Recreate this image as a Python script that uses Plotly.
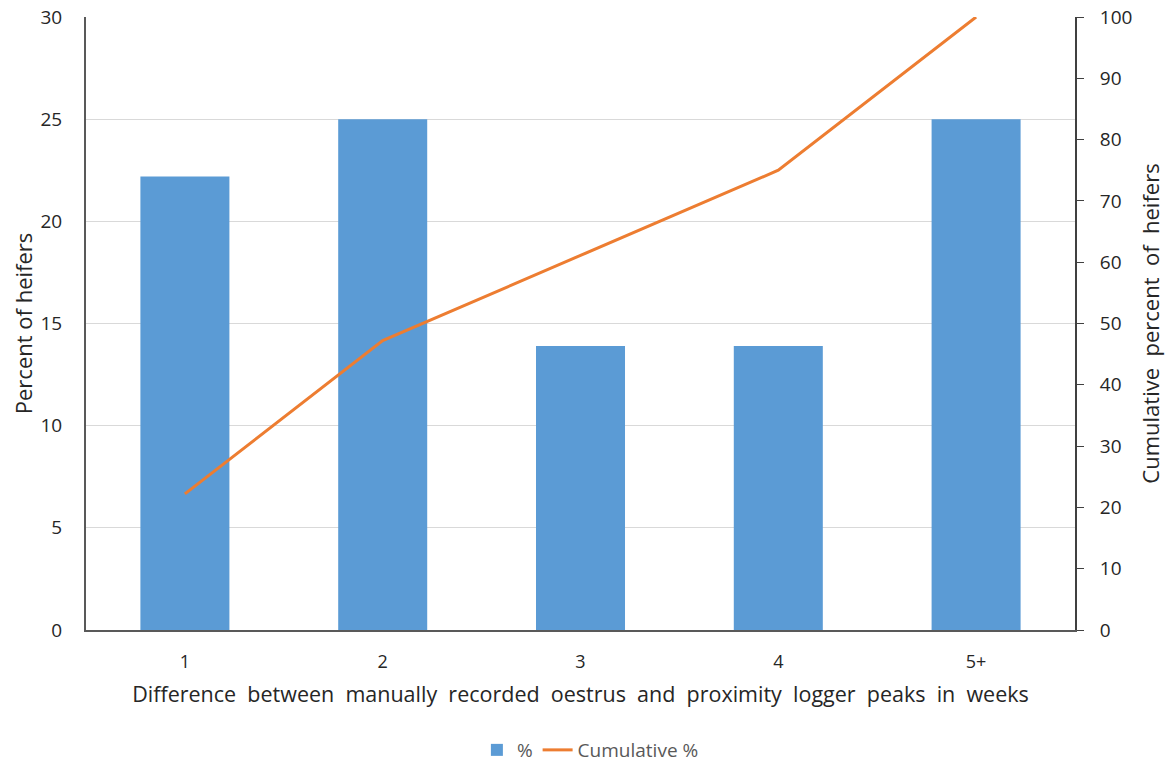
import plotly.graph_objects as go

categories = ["1", "2", "3", "4", "5+"]
percent = [22.2, 25.0, 13.9, 13.9, 25.0]
cumulative = [22.2, 47.2, 61.1, 75.0, 100.0]

FONT = "Open Sans"
TXT = "#262626"

fig = go.Figure()
fig.add_trace(go.Bar(x=categories, y=percent, name="%", marker=dict(color="#5B9BD5", line=dict(width=0)), yaxis="y"))
fig.add_trace(go.Scatter(x=categories, y=cumulative, name="Cumulative %", mode="lines",
                         line=dict(color="#ED7D31", width=3), yaxis="y2"))

fig.update_layout(
    width=1169, height=764,
    margin=dict(l=86, r=94, t=17, b=134),
    paper_bgcolor="white", plot_bgcolor="white",
    font=dict(family=FONT, size=18, color=TXT),
    bargap=0.55,
    showlegend=True,
    legend=dict(orientation="h", x=0.51, xanchor="center", yref="container", y=0.0183, yanchor="middle",
                font=dict(size=19, color="#595959"), traceorder="normal"),
    xaxis=dict(showline=True, linecolor="#595959", linewidth=2, ticks="", tickfont=dict(size=18),
               automargin=False, ticklabelstandoff=14,
               title=dict(text="Difference  between  manually  recorded  oestrus  and  proximity  logger  peaks  in  weeks",
                          font=dict(size=21.5), standoff=15)),
    yaxis=dict(range=[0, 30], dtick=5, showgrid=True, gridcolor="#d9d9d9", gridwidth=1,
               showline=True, linecolor="#595959", linewidth=2, ticks="", zeroline=False,
               automargin=False, ticklabelstandoff=18, ticklabeloverflow="allow",
               tickfont=dict(size=19), title=dict(text="Percent of heifers", font=dict(size=22), standoff=2)),
    yaxis2=dict(range=[0, 100], dtick=10, overlaying="y", side="right", showgrid=False,
                showline=True, linecolor="#404040", linewidth=2, ticks="outside", ticklen=7,
                tickcolor="#404040", zeroline=False, tickfont=dict(size=19),
                automargin=False, ticklabelstandoff=12, ticklabeloverflow="allow",
                title=dict(text="Cumulative  percent  of  heifers", font=dict(size=22), standoff=12)),
)

fig.write_html("out.html", config={"displayModeBar": False},
               post_script="document.body.style.margin='0';")
